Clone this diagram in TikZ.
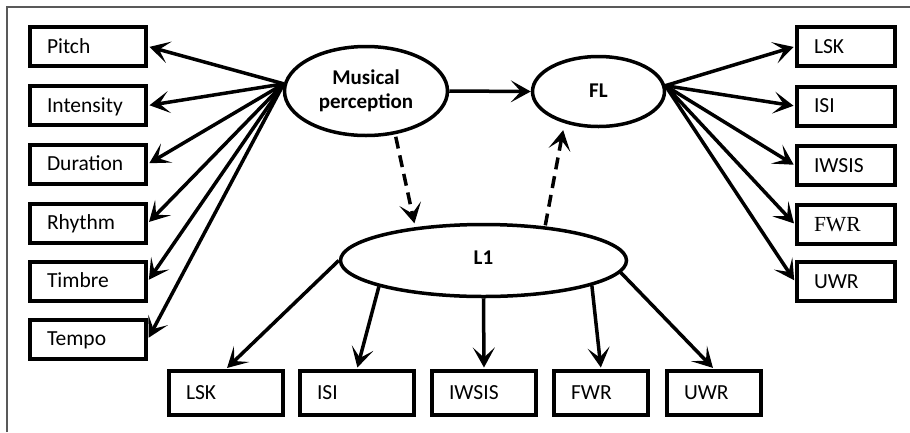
\documentclass[tikz,border=0pt]{standalone}
\usepackage{fontspec}
\setmainfont{Carlito}
\newfontfamily\timesfont{Liberation Serif}
\usetikzlibrary{arrows.meta,shapes.geometric}
\begin{document}
\begin{tikzpicture}[x=1pt,y=-1pt,
  frameline/.style={draw=black!65, line width=1.4pt},
  boxn/.style={draw, line width=4pt, inner xsep=17pt, inner ysep=0pt,
    text width=#1, align=left, text height=13.8pt, text depth=0pt,
    font=\fontsize{21.5}{25}\selectfont},
  lbox/.style={boxn=82pt, minimum height=39pt},
  rbox/.style={boxn=64pt, minimum height=39pt},
  bbox/.style={boxn=#1, minimum height=44pt},
  ell/.style={draw, ellipse, line width=3.5pt, inner sep=0pt,
    font=\bfseries\fontsize{21}{24}\selectfont, align=center},
  arr/.style={line width=3.5pt, -{Stealth[length=20pt,width=22pt,inset=10pt]}},
  dsh/.style={arr, dash pattern=on 12pt off 7pt}
]
\useasboundingbox (0,0) rectangle (910,432);
\draw[frameline] (7,432) -- (7,7) -- (910,7);

% ellipses
\node[ell, minimum width=163pt, minimum height=89pt]
  (mp) at (366,91) {Musical\\perception};
\node[ell, minimum width=132pt, minimum height=70pt, text height=13.5pt, text depth=1.9pt]
  (fl) at (598.5,91.5) {FL};
\node[ell, minimum width=286pt, minimum height=72pt, text height=13.5pt, text depth=6.5pt]
  (l1) at (483.5,260.5) {L1};

% left boxes
\node[lbox] (pitch)     at (88,46.5)  {Pitch};
\node[lbox] (intensity) at (88,105.5) {Intensity};
\node[lbox] (duration)  at (88,164)   {Duration};
\node[lbox] (rhythm)    at (88,223)   {Rhythm};
\node[lbox] (timbre)    at (88,281)   {Timbre};
\node[lbox] (tempo)     at (88,339)   {Tempo};

% right boxes
\node[rbox] (rlsk)   at (846,46.5)  {LSK};
\node[rbox] (risi)   at (846,106)   {ISI};
\node[rbox] (riwsis) at (846,165.5) {IWSIS};
\node[rbox] (rfwr)   at (846,224.5) {\timesfont FWR};
\node[rbox] (ruwr)   at (846,281.5) {UWR};

% bottom boxes
\node[bbox=80pt] (blsk)   at (226,393) {LSK};
\node[bbox=80pt] (bisi)   at (357,393) {ISI};
\node[bbox=70pt] (biwsis) at (484,393) {IWSIS};
\node[bbox=60pt] (bfwr)   at (601,393) {FWR};
\node[bbox=60pt] (buwr)   at (714,393) {UWR};

% left fan
\foreach \n in {pitch,intensity,duration,rhythm,timbre,tempo}
  \draw[arr, shorten >=1.5pt] (mp.175) -- (\n.east);
% right fan
\foreach \n in {rlsk,risi,riwsis,rfwr,ruwr}
  \draw[arr, shorten >=1.5pt] (fl.5) -- (\n.west);

% main arrow
\draw[arr] (mp.east) -- (fl.west);

% dashed
\draw[dsh, shorten <=2.5pt, shorten >=4pt] (mp.-56) -- (l1.154);
\draw[dsh, shorten <=1pt, shorten >=7pt] (l1.29) -- (fl.-137.6);

% bottom fan
\draw[arr, shorten >=1.5pt] (l1.west) -- (blsk.north);
\draw[arr, shorten >=1.5pt] (l1.-166) -- (bisi.north);
\draw[arr, shorten >=1.5pt] (l1.south) -- (biwsis.north);
\draw[arr, shorten >=1.5pt] (l1.-13) -- (bfwr.north);
\draw[arr, shorten >=1.5pt] (l1.-5) -- (buwr.north);
\end{tikzpicture}
\end{document}
